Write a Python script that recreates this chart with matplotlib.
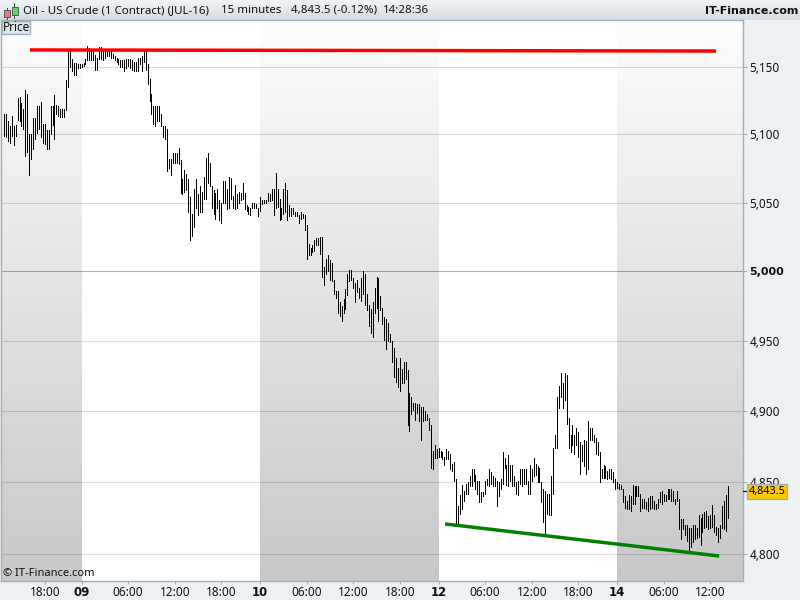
import numpy as np
import matplotlib
matplotlib.use("Agg")
import matplotlib.pyplot as plt
from matplotlib.patches import Rectangle
from matplotlib.ticker import NullLocator, NullFormatter
from matplotlib.lines import Line2D

high = [5115,5115,5110,5106,5114,5106,5107,5127,5128,5123,5119,5133,5130,5100,5100,5112,5112,5121,5121,5124,5108,5108,5103,5103,5121,5121,5129,5122,5121,5119,5119,5119,5140,5162,5162,5156,5153,5153,5152,5152,5152,5153,5156,5166,5164,5163,5163,5159,5157,5165,5165,5163,5162,5163,5163,5162,5160,5158,5157,5156,5155,5155,5155,5156,5156,5156,5155,5154,5154,5157,5157,5158,5162,5163,5152,5141,5130,5121,5121,5121,5121,5115,5106,5106,5104,5082,5082,5086,5086,5086,5090,
5081,5067,5074,5071,5067,5054,5042,5060,5067,5056,5062,5058,5069,5083,5086,5079,5062,5059,5057,5060,5052,5050,5066,5066,5060,5069,5068,5055,5063,5056,5058,5057,5064,5057,5048,5047,5046,5050,5050,5049,5046,5054,5052,5052,5052,5057,5056,5060,5060,5072,5060,5053,5046,5060,5064,5059,5048,5046,5046,5043,5043,5041,5043,5042,5041,5034,5020,5017,5019,5023,5024,5024,5025,5025,5003,5009,5012,5008,5006,4994,4986,4986,4978,4975,4980,4987,4998,5001,5001,4995,4992,4994,4988,4995,5000,4998,4984,4976,4973,4978,4988,4996,4995,4982,4974,4967,
4966,4963,4955,4950,4945,4938,4931,4938,4930,4935,4935,4929,4913,4910,4906,4906,4905,4905,4903,4903,4900,4898,4895,4890,4872,4876,4873,4874,4872,4871,4868,4873,4872,4870,4863,4864,4852,4833,4841,4848,4844,4849,4850,4854,4859,4859,4855,4851,4851,4843,4843,4851,4852,4859,4857,4854,4853,4851,4850,4852,4871,4867,4862,4869,4862,4862,4854,4850,4851,4859,4859,4859,4859,4851,4862,4859,4867,4863,4861,4860,4850,4845,4844,4842,4842,4854,4874,4883,4910,4918,4927,4920,4927,4926,4895,4883,4890,4883,4888,4885,4878,4876,4880,4879,4893,4888,4888,4883,4881,4878,4871,
4859,4862,4861,4858,4859,4859,4857,4852,4850,4849,4848,4845,4840,4837,4841,4840,4848,4847,4847,4847,4842,4838,4838,4836,4839,4840,4840,4837,4835,4838,4843,4844,4842,4841,4845,4845,4845,4844,4838,4844,4838,4824,4824,4820,4820,4818,4818,4820,4820,4818,4827,4825,4828,4829,4830,4826,4827,4834,4827,4819,4818,4820,4833,4837,4841,4847]

low = [5099,5098,5095,5094,5099,5092,5099,5111,5110,5106,5104,5084,5087,5070,5082,5089,5097,5101,5104,5098,5094,5093,5089,5089,5100,5107,5097,5115,5114,5113,5113,5113,5118,5135,5150,5147,5144,5144,5149,5149,5150,5151,5152,5155,5155,5155,5155,5148,5148,5156,5156,5155,5157,5158,5158,5157,5157,5155,5154,5152,5150,5150,5147,5149,5151,5149,5148,5147,5147,5147,5152,5147,5154,5148,5137,5125,5115,5108,5106,5110,5110,5106,5098,5097,5073,5075,5070,5079,5079,5079,5078,
5057,5056,5058,5059,5043,5023,5026,5032,5046,5041,5043,5043,5053,5053,5064,5062,5046,5042,5038,5046,5037,5035,5050,5050,5045,5046,5053,5046,5045,5046,5050,5052,5053,5045,5044,5042,5041,5046,5046,5046,5040,5044,5049,5050,5050,5051,5051,5052,5041,5046,5047,5037,5038,5042,5043,5037,5040,5040,5042,5040,5040,5035,5038,5039,5030,5009,5012,5012,5014,5015,5019,5019,5013,4996,4990,4998,5000,4994,4993,4984,4981,4970,4968,4964,4970,4973,4983,4993,4994,4988,4978,4985,4981,4979,4984,4976,4972,4961,4956,4953,4970,4974,4964,4972,4962,4951,
4944,4950,4949,4935,4924,4921,4917,4914,4920,4920,4923,4890,4886,4898,4901,4894,4899,4893,4880,4893,4894,4894,4887,4860,4859,4867,4867,4868,4868,4866,4862,4866,4866,4859,4858,4851,4821,4820,4828,4831,4837,4842,4842,4847,4847,4851,4845,4842,4836,4836,4840,4842,4848,4847,4849,4847,4847,4833,4840,4845,4849,4860,4848,4847,4851,4847,4847,4842,4841,4849,4847,4849,4849,4842,4842,4851,4854,4855,4850,4850,4836,4822,4814,4828,4827,4827,4842,4874,4874,4902,4910,4902,4908,4891,4874,4871,4876,4870,4876,4868,4856,4865,4861,4856,4859,4880,4880,4878,4870,4869,4850,
4853,4853,4853,4852,4853,4852,4850,4845,4846,4845,4845,4836,4832,4831,4831,4830,4835,4835,4840,4840,4830,4832,4832,4831,4830,4831,4832,4831,4831,4832,4836,4835,4837,4837,4838,4838,4837,4837,4835,4837,4817,4810,4817,4813,4809,4802,4805,4808,4810,4811,4812,4806,4815,4818,4819,4817,4818,4819,4815,4813,4808,4811,4818,4817,4816,4825]

price_ticks = [5150, 5100, 5050, 5000, 4950, 4900, 4850, 4800]
price_labels = ["5,150", "5,100", "5,050", "5,000", "4,950", "4,900", "4,850", "4,800"]
time_ticks = [21, 40, 64, 88, 112, 132, 156, 180, 204, 224, 248, 272, 296, 316, 340, 364]
time_labels = ["18:00", "09", "06:00", "12:00", "18:00", "10", "06:00", "12:00", "18:00", "12",
               "06:00", "12:00", "18:00", "14", "06:00", "12:00"]
day_edges = [40, 132, 224, 316]
last_price = 4843.5
resistance_x = [13.4, 367]
resistance_y = [5162.7, 5161.9]
support_x = [227.3, 368.6]
support_y = [4820.8, 4798.5]

n = min(len(high), len(low))
high = high[:n]
low = low[:n]
idx = np.arange(n)

W, H = 800, 600
L, R, T, B = 1, 743, 20, 581
X0, X1 = -1.55, 380.9
Y0, Y1 = 4781.2, 5185.1
PANEL = "#eef1f4"
EDGE = "#9fb0ba"
INK = "#111111"
BOLD = "DejaVu Sans"
plt.rcParams["font.family"] = ["Noto Sans", "DejaVu Sans"]

fig = plt.figure(figsize=(8, 6), dpi=100, facecolor=PANEL)

def fx(p):
    return p / W

def fy(p):
    return 1 - p / H

axh = fig.add_axes([0, fy(T), 1, T / H], zorder=0)
axh.imshow(np.linspace(0, 1, 32).reshape(-1, 1), aspect="auto",
           cmap=matplotlib.colors.LinearSegmentedColormap.from_list("h", ["#f0f4f7", "#d4dde3"]),
           extent=[0, 1, 0, 1])
axh.axis("off")

axb = fig.add_axes([fx(L), fy(B), (R - L) / W, (B - T) / H], zorder=1)
axb.axis("off")
axb.add_patch(Rectangle((X0, 0), X1 - X0, 1, fc="white", ec="none"))
gray = matplotlib.colors.LinearSegmentedColormap.from_list("g", ["#fdfdfd", "#c8c8c8"])
grad = np.linspace(0, 1, 256).reshape(-1, 1)
for a, b in [(X0, day_edges[0]), (day_edges[1], day_edges[2]), (day_edges[3], X1)]:
    axb.imshow(grad, aspect="auto", cmap=gray, extent=[a, b, 0, 1], zorder=1)
axb.set_xlim(X0, X1)
axb.set_ylim(0, 1)

ax = fig.add_axes([fx(L), fy(B), (R - L) / W, (B - T) / H], zorder=2)
ax.patch.set_alpha(0)
ax.set_yscale("log")
ax.set_xlim(X0, X1)
ax.set_ylim(Y0, Y1)
ax.yaxis.set_minor_locator(NullLocator())
ax.yaxis.set_minor_formatter(NullFormatter())
ax.yaxis.tick_right()
ax.set_yticks(price_ticks)
ax.set_yticklabels(price_labels, fontsize=8.5, color=INK)
ax.set_xticks(time_ticks)
ax.set_xticklabels(time_labels, fontsize=8.5, color=INK)
for lab, txt in zip(ax.get_xticklabels(), time_labels):
    if ":" not in txt:
        lab.set_family(BOLD)
        lab.set_fontweight("bold")
for lab, txt in zip(ax.get_yticklabels(), price_labels):
    if txt == "5,000":
        lab.set_family(BOLD)
        lab.set_fontsize(8)
        lab.set_fontweight("bold")
ax.tick_params(axis="y", length=3, width=0.8, color=EDGE, pad=1.5)
ax.tick_params(axis="x", length=2.5, width=0.8, color=EDGE, pad=1)
for s in ax.spines.values():
    s.set_color(EDGE)
    s.set_linewidth(1)

for p in price_ticks:
    ax.axhline(p, color="#000000", alpha=0.32 if p == 5000 else 0.14, lw=0.8, zorder=1)

ax.vlines(idx, low, high, colors="black", lw=0.72, antialiased=False, zorder=3)
ax.plot(resistance_x, resistance_y, color="#ff0000", lw=2.5, solid_capstyle="butt", zorder=4)
ax.plot(support_x, support_y, color="#008000", lw=2.5, solid_capstyle="butt", zorder=4)

ax.plot([1.0, 1.006], [last_price, last_price], transform=ax.get_yaxis_transform(),
        color="black", lw=0.8, clip_on=False, zorder=5)
fig.text(fx(767), fy(491.5), "4,843.5", fontsize=7.8, ha="center", va="center", color="black", zorder=7,
         bbox=dict(boxstyle="square,pad=0.15", fc="#fcc800", ec=EDGE, lw=1))

for px, s in [(23, "Oil - US Crude (1 Contract) (JUL-16)"), (221, "15 minutes"),
              (291, "4,843.5 (-0.12%)"), (383, "14:28:36")]:
    fig.text(fx(px), fy(10.5), s, fontsize=8.3, va="center", color=INK, zorder=6)
fig.text(fx(798), fy(10.5), "IT-Finance.com", fontsize=8, va="center", ha="right",
         family=BOLD, fontweight="bold", color=INK, zorder=6)

# candle icon
fig.add_artist(Line2D([fx(6.5), fx(6.5)], [fy(8), fy(19)], color="#444444", lw=0.7, zorder=6))
fig.add_artist(Rectangle((fx(3.5), fy(17)), 6 / W, 7 / H, fc="#ee7777", ec="#555555", lw=0.7, zorder=6))
fig.add_artist(Line2D([fx(14.5), fx(14.5)], [fy(3), fy(18)], color="#444444", lw=0.7, zorder=6))
fig.add_artist(Rectangle((fx(11.5), fy(15)), 6 / W, 8 / H, fc="#55dd55", ec="#555555", lw=0.7, zorder=6))

fig.add_artist(Rectangle((fx(1.5), fy(34)), 28 / W, 13 / H, fc="#dde5ea", ec=EDGE, lw=1, zorder=6))
fig.text(fx(3), fy(27.5), "Price", fontsize=8.5, va="center", color=INK, zorder=7)

fig.text(fx(3), fy(574), "© IT-Finance.com", fontsize=8, va="center", color=INK, zorder=7)

fig.savefig("out.png", dpi=100, facecolor=PANEL)
